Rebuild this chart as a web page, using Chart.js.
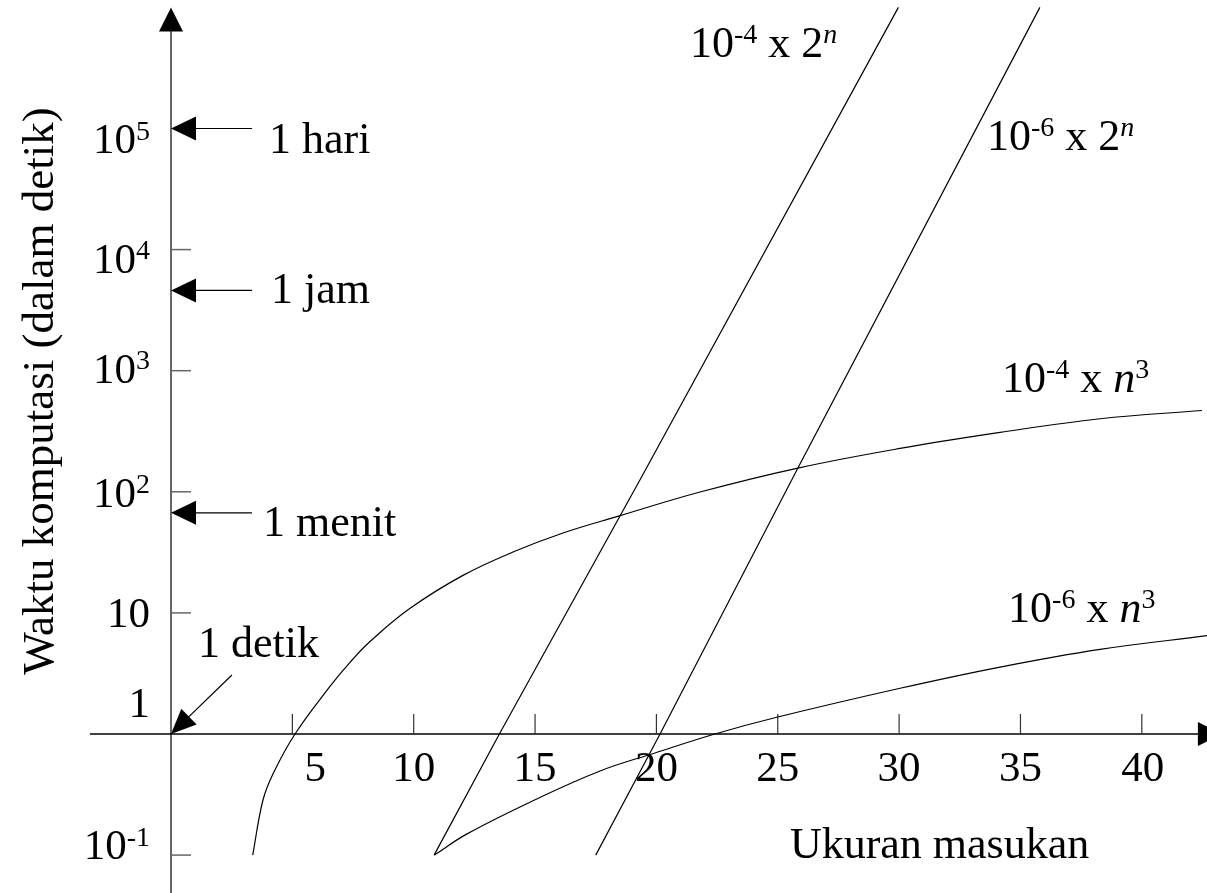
<!DOCTYPE html>
<html><head><meta charset="utf-8">
<script src="https://cdn.jsdelivr.net/npm/chart.js@4.4.1/dist/chart.umd.min.js"></script>
<style>html,body{margin:0;padding:0;background:#fff;overflow:hidden}#wrap{width:1207px;height:893px}</style>
</head><body><div id="wrap"><canvas id="c" width="1207" height="893"></canvas></div>
<script>
// ---------- data ----------
const xTicks = [5, 10, 15, 20, 25, 30, 35, 40];
const xTickLabels = ['5', '10', '15', '20', '25', '30', '35', '40'];
const yTickMarks = [0.1, 10, 100, 1000, 10000];
const yLabelValues = [1e5, 1e4, 1e3, 1e2, 10, 1, 0.1];
const yLabelBase = ['10', '10', '10', '10', '10', '1', '10'];
const yLabelSup = ['5', '4', '3', '2', '', '', '-1'];

const markerNames = ['1 hari', '1 jam', '1 menit'];
const markerValues = [1e5, 4600, 67];
const detikName = '1 detik';
const detikValue = 1;

// 10^-4 x n^3
const cubicHiN = [3.366, 3.79, 4.215, 5.11, 6.55, 7.375, 8.2, 9.85, 12.03, 14.09, 16.15, 18.5, 21.8, 25.83, 30.04, 34.16, 38.28, 42.48];
const cubicHiT = [0.1, 0.285, 0.474, 1.0, 2.47, 3.9, 5.8, 10.9, 20.4, 31.8, 45.7, 63.5, 99.6, 157, 228, 309, 401, 469];
// 10^-6 x n^3
const cubicLoN = [10.85, 12.18, 14.93, 17.68, 19.94, 22.41, 24.96, 30.04, 34.16, 38.28, 42.69];
const cubicLoT = [0.1, 0.149, 0.282, 0.495, 0.697, 1.0, 1.374, 2.385, 3.57, 5.0, 6.48];
// 10^-4 x 2^n
const expHiN = [10.84, 13.53, 19.32, 29.97];
const expHiT = [0.1, 1.0, 125, 1e6];
// 10^-6 x 2^n
const expLoN = [17.5, 20.15, 25.83, 35.8];
const expLoT = [0.1, 1.0, 157, 1e6];

const curveLabels = [
  [{t:'10'},{t:'-4',sup:1},{t:' x 2'},{t:'n',sup:1,it:1}],
  [{t:'10'},{t:'-6',sup:1},{t:' x 2'},{t:'n',sup:1,it:1}],
  [{t:'10'},{t:'-4',sup:1},{t:' x '},{t:'n',it:1},{t:'3',sup:1}],
  [{t:'10'},{t:'-6',sup:1},{t:' x '},{t:'n',it:1},{t:'3',sup:1}]
];
const xTitle = 'Ukuran masukan';
const yTitle = 'Waktu komputasi (dalam detik)';

// ---------- layout / style ----------
const L = {
  xMin: -7.046, xMax: 42.686, yLogMin: -1.313, yLogMax: 6.061,
  xAxisFrom: -3.34, xArrowTip: 43.3, yAxisTop: 1e6,
  curveLabelPos: [[21.38, 5.590], [33.62, 4.822], [34.24, 2.827], [34.49, 0.927]],
  xTitlePos: [25.50, -1.024],
  markerTextPos: [[4.04, 4.798], [4.12, 3.559], [3.79, 1.635]],
  detikTextPos: [1.11, 0.636],
  detikFrom: [2.51, 0.487],
  markerLineFrom: 3.34,
  yLabelDy: [25, 23, 12, 15, 14, -17, 4],
  yLabelGap: 21,
  xLabelDx: [23, 0, 0, 0, 0, 0, 0, 1],
  xLabelDy: 47,
  font: 44, tickFont: 43, titleFont: 45,
  supRatio: 0.64, supRise: 0.31
};
const SERIF = '"Liberation Serif","Times New Roman",Times,serif';
function fnt(size, it) { return (it ? 'italic ' : '') + size + 'px ' + SERIF; }
function supSize(S) { return Math.round(S * L.supRatio); }
function richWidth(ctx, parts, S) {
  let w = 0;
  for (const p of parts) { ctx.font = fnt(p.sup ? supSize(S) : S, p.it); w += ctx.measureText(p.t).width; }
  return w;
}
function drawRich(ctx, parts, x, y, S, align) {
  const w = richWidth(ctx, parts, S);
  let cx = align === 'right' ? x - w : align === 'center' ? x - w / 2 : x;
  ctx.textAlign = 'left'; ctx.textBaseline = 'alphabetic'; ctx.fillStyle = '#000';
  for (const p of parts) {
    const s = p.sup ? supSize(S) : S;
    ctx.font = fnt(s, p.it);
    ctx.fillText(p.t, cx, p.sup ? y - S * L.supRise : y);
    cx += ctx.measureText(p.t).width;
  }
}
function arrowHead(ctx, tx, ty, dx, dy, len, hw) {
  const m = Math.hypot(dx, dy); dx /= m; dy /= m;
  const bx = tx - dx * len, by = ty - dy * len;
  ctx.beginPath();
  ctx.moveTo(tx, ty);
  ctx.lineTo(bx - dy * hw, by + dx * hw);
  ctx.lineTo(bx + dy * hw, by - dx * hw);
  ctx.closePath();
  ctx.fillStyle = '#000'; ctx.fill();
}

const axesPlugin = {
  id: 'axesPlugin',
  beforeDatasetsDraw(chart) {
    const ctx = chart.ctx, xs = chart.scales.x, ys = chart.scales.y;
    const X = v => xs.getPixelForValue(v), Y = v => ys.getPixelForValue(v);
    const ax = X(0), ay = Y(1);
    ctx.save();
    ctx.strokeStyle = '#666'; ctx.lineWidth = 2;
    ctx.beginPath(); ctx.moveTo(ax, chart.height); ctx.lineTo(ax, Y(L.yAxisTop) + 20); ctx.stroke();
    arrowHead(ctx, ax, Y(L.yAxisTop), 0, -1, 24, 12);
    ctx.lineWidth = 1.5; ctx.strokeStyle = '#666';
    for (const v of yTickMarks) { ctx.beginPath(); ctx.moveTo(ax, Y(v)); ctx.lineTo(ax + 20, Y(v)); ctx.stroke(); }
    ctx.strokeStyle = '#000'; ctx.lineWidth = 1.6;
    ctx.beginPath(); ctx.moveTo(X(L.xAxisFrom), ay); ctx.lineTo(X(L.xArrowTip) - 20, ay); ctx.stroke();
    arrowHead(ctx, X(L.xArrowTip), ay, 1, 0, 24, 12);
    ctx.strokeStyle = '#333'; ctx.lineWidth = 1.2;
    for (const v of xTicks) { ctx.beginPath(); ctx.moveTo(X(v), ay); ctx.lineTo(X(v), ay - 20); ctx.stroke(); }
    ctx.restore();
  },
  afterDatasetsDraw(chart) {
    const ctx = chart.ctx, xs = chart.scales.x, ys = chart.scales.y;
    const X = v => xs.getPixelForValue(v), Y = v => ys.getPixelForValue(v);
    const ax = X(0), ay = Y(1);
    ctx.save();
    xTicks.forEach((v, i) => drawRich(ctx, [{t: xTickLabels[i]}], X(v) + L.xLabelDx[i], ay + L.xLabelDy, L.tickFont, 'center'));
    yLabelValues.forEach((v, i) => {
      const parts = [{t: yLabelBase[i]}];
      if (yLabelSup[i]) parts.push({t: yLabelSup[i], sup: 1});
      drawRich(ctx, parts, ax - L.yLabelGap, Y(v) + L.yLabelDy[i], L.tickFont, 'right');
    });
    ctx.strokeStyle = '#000'; ctx.lineWidth = 1.2;
    markerValues.forEach((v, i) => {
      const py = Y(v);
      ctx.beginPath(); ctx.moveTo(X(L.markerLineFrom), py); ctx.lineTo(ax + 22, py); ctx.stroke();
      arrowHead(ctx, ax, py, -1, 0, 25, 12);
      drawRich(ctx, [{t: markerNames[i]}], X(L.markerTextPos[i][0]), Y(Math.pow(10, L.markerTextPos[i][1])), L.font, 'left');
    });
    const fx = X(L.detikFrom[0]), fy = Y(Math.pow(10, L.detikFrom[1])), tx = ax, ty = Y(detikValue);
    const m = Math.hypot(tx - fx, ty - fy);
    ctx.beginPath(); ctx.moveTo(fx, fy); ctx.lineTo(tx - (tx - fx) / m * 20, ty - (ty - fy) / m * 20); ctx.stroke();
    arrowHead(ctx, tx, ty, tx - fx, ty - fy, 25, 11);
    drawRich(ctx, [{t: detikName}], X(L.detikTextPos[0]), Y(Math.pow(10, L.detikTextPos[1])), L.font, 'left');
    curveLabels.forEach((parts, i) => drawRich(ctx, parts, X(L.curveLabelPos[i][0]), Y(Math.pow(10, L.curveLabelPos[i][1])), L.font, 'left'));
    drawRich(ctx, [{t: xTitle}], X(L.xTitlePos[0]), Y(Math.pow(10, L.xTitlePos[1])), L.font, 'left');
    ctx.translate(53, Y(Math.pow(10, 2.832)));
    ctx.rotate(-Math.PI / 2);
    drawRich(ctx, [{t: yTitle}], 0, 0, L.titleFont, 'center');
    ctx.restore();
  }
};

function ds(ns, ts, tension) {
  return {
    data: ns.map((n, i) => ({x: n, y: ts[i]})),
    showLine: true, borderColor: '#000', borderWidth: 1.2, pointRadius: 0,
    fill: false, cubicInterpolationMode: 'default', tension: tension
  };
}

new Chart(document.getElementById('c'), {
  type: 'scatter',
  data: { datasets: [
    ds(cubicHiN, cubicHiT, 0.4),
    ds(cubicLoN, cubicLoT, 0.4),
    ds(expHiN, expHiT, 0),
    ds(expLoN, expLoT, 0)
  ]},
  options: {
    responsive: false, animation: false, devicePixelRatio: 1,
    layout: { padding: 0 },
    plugins: { legend: { display: false }, tooltip: { enabled: false } },
    scales: {
      x: { type: 'linear', min: L.xMin, max: L.xMax, display: false },
      y: { type: 'logarithmic', min: Math.pow(10, L.yLogMin), max: Math.pow(10, L.yLogMax), display: false }
    }
  },
  plugins: [axesPlugin]
});
</script>
</body></html>
